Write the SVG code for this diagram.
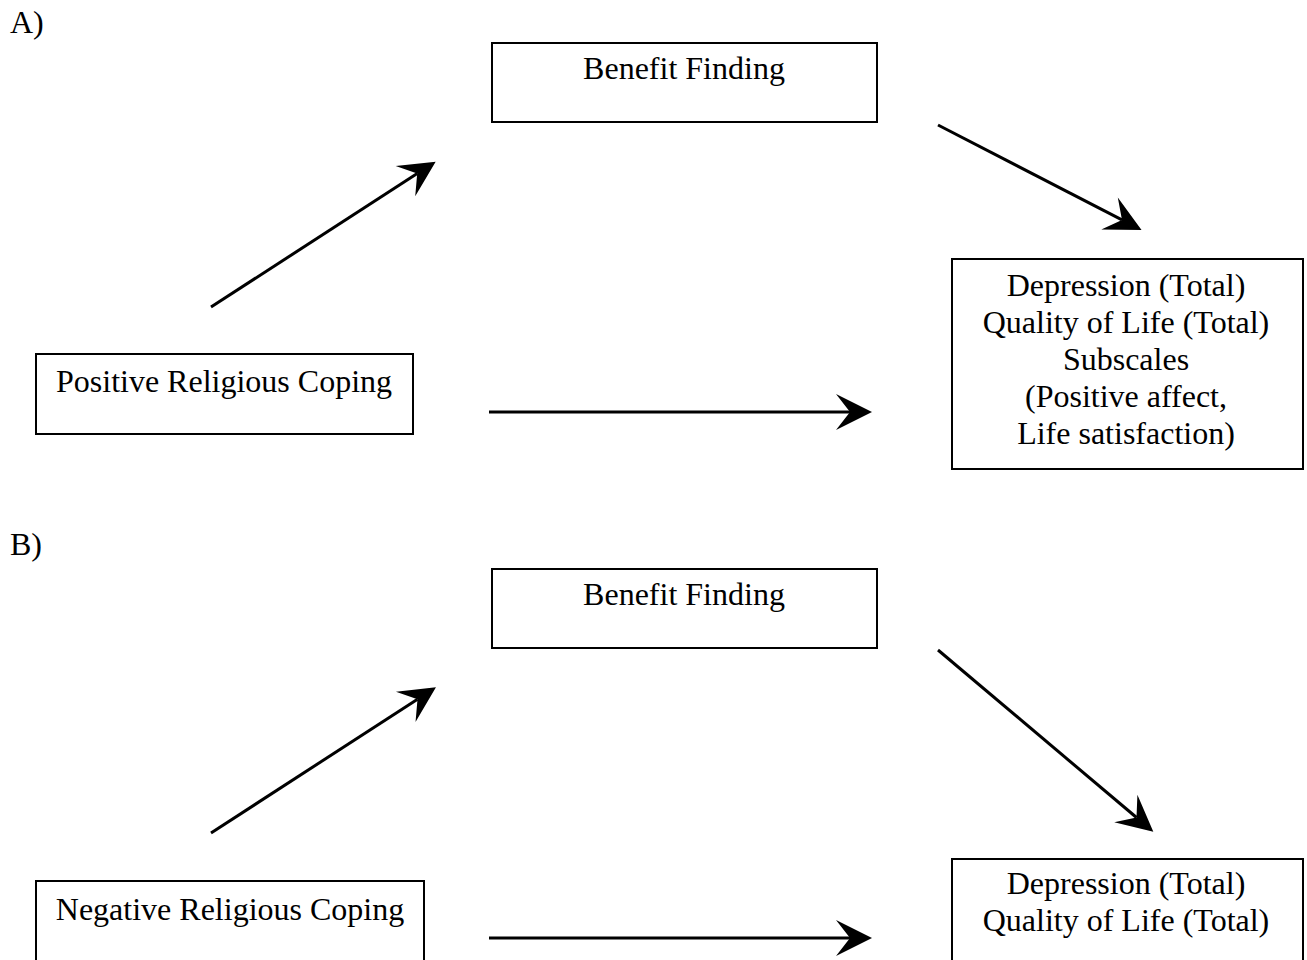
<svg xmlns="http://www.w3.org/2000/svg" width="1307" height="960" viewBox="0 0 1307 960">
<style>
text{font-family:"Liberation Serif","Times New Roman",serif;font-size:32px;fill:#000}
.c{text-anchor:middle}
.box{fill:#fff;stroke:#000;stroke-width:2}
.arr{stroke:#000;stroke-width:3;fill:none;marker-end:url(#ah)}
</style>
<defs>
<marker id="ah" markerUnits="userSpaceOnUse" markerWidth="40" markerHeight="40" viewBox="0 0 40 40" refX="14" refY="18" orient="auto" overflow="visible">
<path d="M0,0 L36,18 L0,36 L14,18 Z" fill="#000"/>
</marker>
</defs>
<rect width="1307" height="960" fill="#fff"/>
<text x="10" y="33">A)</text>
<text x="10" y="555">B)</text>
<g id="a-benefit"><rect class="box" x="492" y="43" width="385" height="79"/><text class="c" x="684" y="79">Benefit Finding</text></g>
<g id="a-positive"><rect class="box" x="36" y="354" width="377" height="80"/><text class="c" x="224" y="392">Positive Religious Coping</text></g>
<g id="a-outcome"><rect class="box" x="952" y="259" width="351" height="210"/>
<text class="c" x="1126" y="296">Depression (Total)</text>
<text class="c" x="1126" y="333">Quality of Life (Total)</text>
<text class="c" x="1126" y="370">Subscales</text>
<text class="c" x="1126" y="407">(Positive affect,</text>
<text class="c" x="1126" y="444">Life satisfaction)</text></g>
<g id="b-benefit"><rect class="box" x="492" y="569" width="385" height="79"/><text class="c" x="684" y="605">Benefit Finding</text></g>
<g id="b-negative"><rect class="box" x="36" y="881" width="388" height="90"/><text class="c" x="230" y="920">Negative Religious Coping</text></g>
<g id="b-outcome"><rect class="box" x="952" y="859" width="351" height="120"/>
<text class="c" x="1126" y="894">Depression (Total)</text>
<text class="c" x="1126" y="931">Quality of Life (Total)</text></g>
<g id="connectors">
<line class="arr" x1="211" y1="307" x2="417.2" y2="173.6"/>
<line class="arr" x1="938" y1="125" x2="1122" y2="219.9"/>
<line class="arr" x1="489" y1="412" x2="850" y2="412"/>
<line class="arr" x1="211" y1="833" x2="417.5" y2="699.2"/>
<line class="arr" x1="938" y1="650" x2="1136.5" y2="817.5"/>
<line class="arr" x1="489" y1="938" x2="850" y2="938"/>
</g>
</svg>
